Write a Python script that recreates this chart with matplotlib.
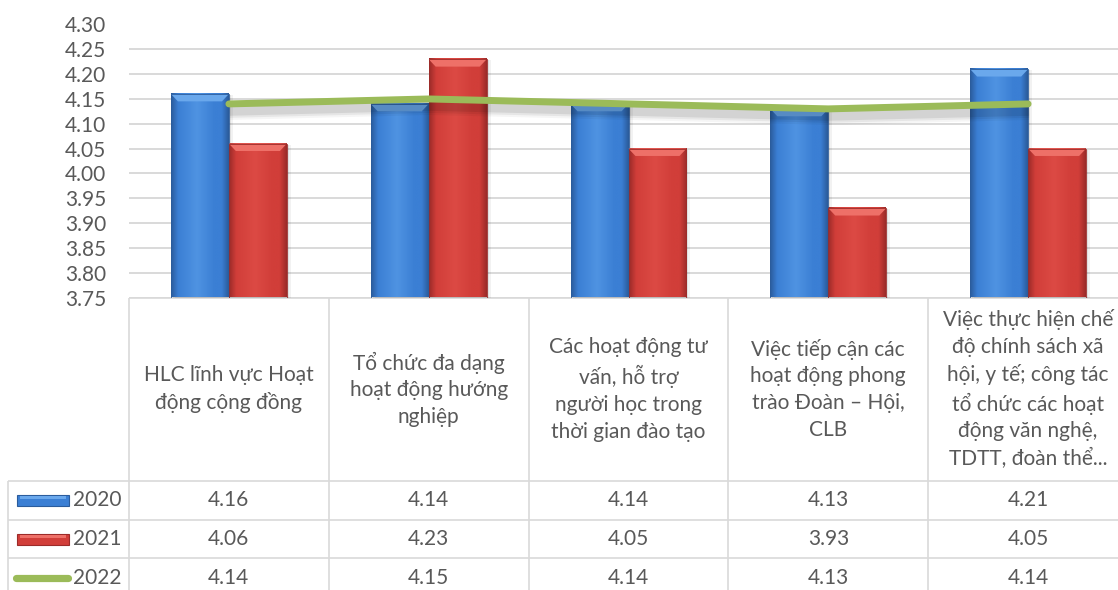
import matplotlib
matplotlib.use("Agg")
import matplotlib.pyplot as plt
import numpy as np
from matplotlib.patches import Rectangle, Polygon
from matplotlib.ticker import MultipleLocator, FormatStrFormatter
from matplotlib.transforms import offset_copy
from matplotlib.colors import to_rgb

plt.rcParams['font.family'] = ['Lato', 'Noto Sans', 'DejaVu Sans']

# ---- data -------------------------------------------------------------
categories = [
    "HLC lĩnh vực Hoạt\nđộng cộng đồng",
    "Tổ chức đa dạng\nhoạt động hướng\nnghiệp",
    "Các hoạt động tư\nvấn, hỗ trợ\nngười học trong\nthời gian đào tạo",
    "Việc tiếp cận các\nhoạt động phong\ntrào Đoàn – Hội,\nCLB",
    "Việc thực hiện chế\nđộ chính sách xã\nhội, y tế; công tác\ntổ chức các hoạt\nđộng văn nghệ,\nTDTT, đoàn thể...",
]
years = ["2020", "2021", "2022"]
v2020 = [4.16, 4.14, 4.14, 4.13, 4.21]
v2021 = [4.06, 4.23, 4.05, 3.93, 4.05]
v2022 = [4.14, 4.15, 4.14, 4.13, 4.14]
y_min, y_max, y_step = 3.75, 4.30, 0.05

# ---- styling ----------------------------------------------------------
TXT = "#595959"
GRID = "#d9d9d9"
BLUE = dict(edge="#2b5c9c", body="#3b7fd4", light="#4f93e2", bevel="#6aa8ec")
RED = dict(edge="#9c2b29", body="#d13e39", light="#dc4a44", bevel="#ee7068")
GREEN = "#9bbb59"
FS = 15

W, H = 1118, 590
fig = plt.figure(figsize=(W / 100, H / 100), dpi=100)
fig.patch.set_facecolor("white")

# plot area (pixels from top-left)
L, R, T, B = 129, 1128, 24.5, 297.5
ax = fig.add_axes([L / W, 1 - B / H, (R - L) / W, (B - T) / H])
n = len(categories)
ax.set_xlim(-0.5, n - 0.5)
ax.set_ylim(y_min, y_max)

bw = 0.29  # bar width in category units


def gradient_bar(x0, w, top, pal):
    h = top - y_min
    # soft shadow around the bar
    for off, a in [(4, 0.05), (2, 0.08)]:
        ax.add_patch(Rectangle((x0, y_min), w, h, facecolor="black", alpha=a, lw=0,
                               transform=offset_copy(ax.transData, fig, x=off, y=-1,
                                                     units="dots"),
                               zorder=1))
    # horizontal shading across the bar body
    e, b, l = (np.array(to_rgb(pal[k])) for k in ("edge", "body", "light"))
    stops = [e, b, l, b, b, e]
    pos = [0.0, 0.12, 0.45, 0.75, 0.88, 1.0]
    xs = np.linspace(0, 1, 64)
    grad = np.stack([np.interp(xs, pos, [s[c] for s in stops]) for c in range(3)], axis=-1)
    ax.imshow(grad[None, :, :], extent=(x0, x0 + w, y_min, top), aspect="auto",
              interpolation="bilinear", zorder=2)
    # bevel at the top edge
    dx = w * 0.12
    dy = (y_max - y_min) * 0.027
    ax.add_patch(Polygon([(x0, top), (x0 + w, top), (x0 + w - dx, top - dy), (x0 + dx, top - dy)],
                         closed=True, facecolor=pal["bevel"], lw=0, zorder=3))
    ax.add_patch(Rectangle((x0, y_min), w, h, facecolor="none", edgecolor=pal["edge"],
                           lw=0.6, zorder=3))


for i in range(n):
    gradient_bar(i - bw, bw, v2020[i], BLUE)
    gradient_bar(i, bw, v2021[i], RED)

x = np.arange(n)
# blurred drop shadow under the line
for lw, a in [(13, 0.04), (10, 0.06), (7, 0.08)]:
    ax.plot(x, v2022, color="black", alpha=a, lw=lw, solid_capstyle="butt",
            transform=offset_copy(ax.transData, fig, x=1, y=-7, units="dots"), zorder=4)
ax.plot(x, v2022, color=GREEN, lw=5, solid_capstyle="round", zorder=5)

ax.set_xlim(-0.5, n - 0.5)
ax.set_ylim(y_min, y_max)
ax.yaxis.set_major_locator(MultipleLocator(y_step))
ax.yaxis.set_major_formatter(FormatStrFormatter("%.2f"))
ax.yaxis.grid(True, color=GRID, lw=1.4)
ax.set_axisbelow(True)
ax.set_xticks([])
ax.tick_params(axis="y", length=0, pad=16.5, labelsize=FS, labelcolor=TXT)
for s in ax.spines.values():
    s.set_visible(False)
ax.patch.set_alpha(0)

# ---- data table below the plot -----------------------------------------
tab = fig.add_axes([0, 0, 1, 1], zorder=-1)
tab.set_xlim(0, W)
tab.set_ylim(H, 0)
tab.axis("off")

fig.canvas.draw()


def to_px(xv, yv):
    dx, dy = ax.transData.transform((xv, yv))
    return dx, H - dy


edges = [to_px(i - 0.5, y_min)[0] for i in range(n + 1)]
centers = [to_px(i, y_min)[0] for i in range(n)]
head_top = to_px(0, y_min)[1]
head_bot = 481
row_h = 38.7
row_tops = [head_bot + k * row_h for k in range(len(years) + 1)]
tab_left = 8

lkw = dict(color=GRID, lw=1.2, solid_capstyle="butt")
tab.plot([edges[0], edges[-1]], [head_top, head_top], **lkw)
for yy in row_tops:
    tab.plot([tab_left, edges[-1]], [yy, yy], **lkw)
for xx in edges:
    tab.plot([xx, xx], [head_top, H + 10], **lkw)
tab.plot([tab_left, tab_left], [head_bot, H + 10], **lkw)

for cx, lab in zip(centers, categories):
    tab.text(cx, (head_top + head_bot) / 2, lab, ha="center", va="center",
             multialignment="center", fontsize=FS, color=TXT, linespacing=1.42)

series = [v2020, v2021, v2022]
for k, (yr, vals) in enumerate(zip(years, series)):
    cy = row_tops[k] + row_h / 2
    if k < 2:
        pal = BLUE if k == 0 else RED
        tab.add_patch(Rectangle((17, cy - 5.5), 52, 11, facecolor=pal["body"],
                                edgecolor=pal["edge"], lw=0.8))
        tab.add_patch(Rectangle((20, cy - 4), 46, 3, facecolor=pal["bevel"], lw=0))
    else:
        tab.plot([16, 68], [cy, cy], color=GREEN, lw=5.2, solid_capstyle="round")
    tab.text(73, cy, yr, ha="left", va="center", fontsize=FS, color=TXT)
    for cx, v in zip(centers, vals):
        tab.text(cx, cy, f"{v:.2f}", ha="center", va="center", fontsize=FS, color=TXT)

fig.savefig("out.png", dpi=100)
